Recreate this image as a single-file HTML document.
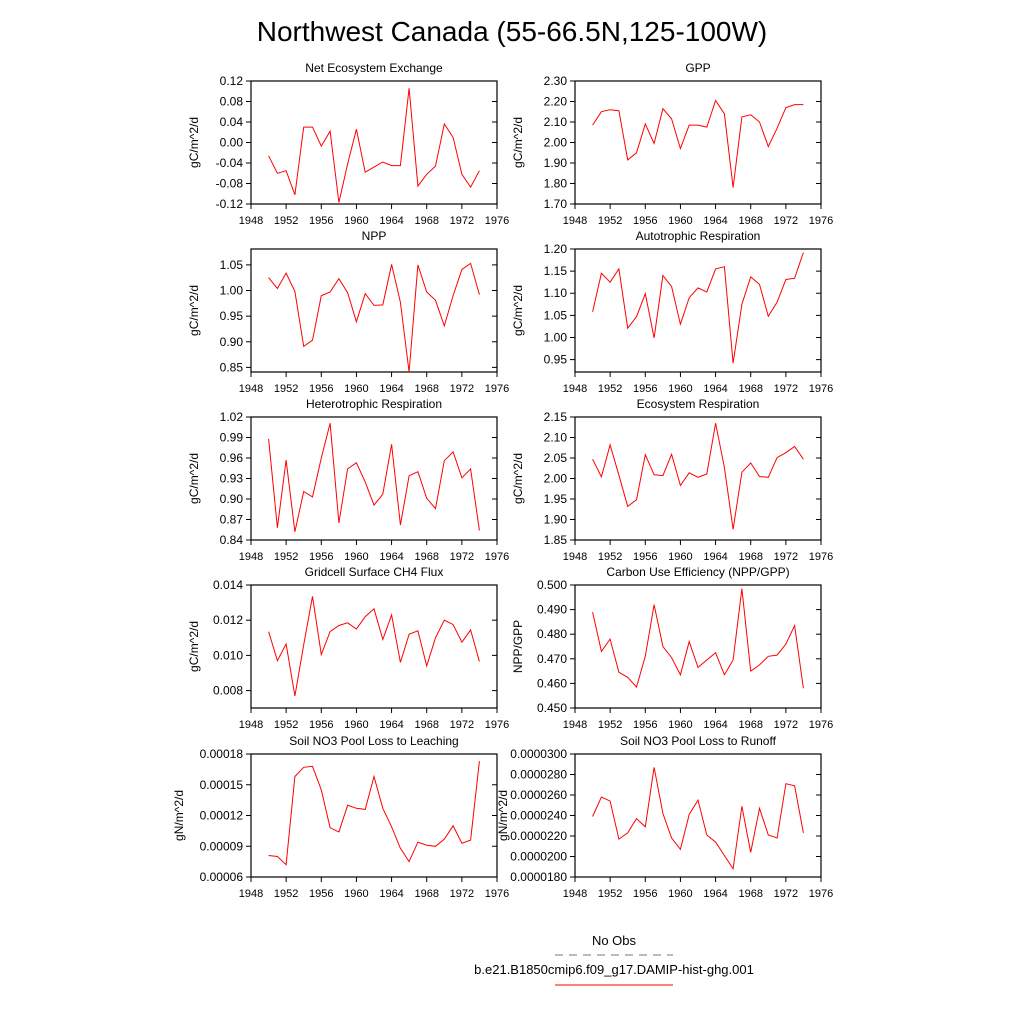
<!DOCTYPE html>
<html><head><meta charset="utf-8"><style>
body{margin:0;background:#fff;}
svg{display:block;font-family:"Liberation Sans",sans-serif;}
</style></head><body>
<svg id="c" width="1024" height="1024" viewBox="0 0 1024 1024">
<text x="512" y="41" font-size="28" text-anchor="middle">Northwest Canada (55-66.5N,125-100W)</text>
<g>
<text x="614" y="945" font-size="13" text-anchor="middle">No Obs</text>
<line x1="555" y1="955" x2="673" y2="955" stroke="#777" stroke-dasharray="8,6"/>
<text x="614" y="974" font-size="13" text-anchor="middle">b.e21.B1850cmip6.f09_g17.DAMIP-hist-ghg.001</text>
<line x1="555" y1="985" x2="673" y2="985" stroke="#f00"/>
</g>
</svg>
<script>
const years = [1950,1951,1952,1953,1954,1955,1956,1957,1958,1959,1960,1961,1962,1963,1964,1965,1966,1967,1968,1969,1970,1971,1972,1973,1974];
const xTicks = [1948,1952,1956,1960,1964,1968,1972,1976];
const neeValues = [-0.026,-0.060,-0.055,-0.102,0.030,0.030,-0.007,0.022,-0.117,-0.042,0.026,-0.058,-0.048,-0.038,-0.045,-0.045,0.106,-0.085,-0.062,-0.046,0.036,0.010,-0.062,-0.087,-0.055];
const neeTicks = ["0.12","0.08","0.04","0.00","-0.04","-0.08","-0.12"];
const gppValues = [2.085,2.15,2.16,2.155,1.915,1.95,2.09,1.995,2.165,2.115,1.97,2.085,2.085,2.075,2.205,2.14,1.78,2.125,2.135,2.1,1.98,2.07,2.17,2.185,2.185];
const gppTicks = ["2.30","2.20","2.10","2.00","1.90","1.80","1.70"];
const nppValues = [1.025,1.004,1.034,0.998,0.891,0.903,0.99,0.997,1.023,0.996,0.939,0.994,0.971,0.972,1.051,0.977,0.841,1.05,0.997,0.981,0.931,0.99,1.041,1.053,0.992];
const nppTicks = ["1.05","1.00","0.95","0.90","0.85"];
const arValues = [1.058,1.145,1.125,1.155,1.021,1.047,1.099,0.999,1.14,1.115,1.03,1.09,1.112,1.103,1.155,1.16,0.942,1.075,1.137,1.12,1.048,1.08,1.131,1.134,1.192];
const arTicks = ["1.20","1.15","1.10","1.05","1.00","0.95"];
const hrValues = [0.988,0.858,0.957,0.852,0.911,0.903,0.96,1.011,0.865,0.944,0.953,0.925,0.891,0.907,0.98,0.862,0.934,0.94,0.901,0.886,0.956,0.969,0.931,0.944,0.854];
const hrTicks = ["1.02","0.99","0.96","0.93","0.90","0.87","0.84"];
const erValues = [2.047,2.004,2.082,2.008,1.932,1.948,2.058,2.009,2.007,2.059,1.983,2.014,2.003,2.011,2.135,2.027,1.876,2.015,2.038,2.005,2.003,2.051,2.063,2.078,2.047];
const erTicks = ["2.15","2.10","2.05","2.00","1.95","1.90","1.85"];
const ch4Values = [0.01135,0.0097,0.01065,0.0077,0.0106,0.01335,0.01005,0.01135,0.0117,0.01185,0.0115,0.0122,0.01265,0.0109,0.0123,0.0096,0.0112,0.0114,0.0094,0.011,0.012,0.01175,0.01075,0.01145,0.00965];
const ch4Ticks = ["0.014","0.012","0.010","0.008"];
const cueValues = [0.489,0.473,0.478,0.4645,0.4625,0.4585,0.471,0.492,0.475,0.4705,0.4635,0.477,0.4665,0.4695,0.4725,0.4635,0.4695,0.4985,0.465,0.4675,0.471,0.4715,0.476,0.4835,0.458];
const cueTicks = ["0.500","0.490","0.480","0.470","0.460","0.450"];
const leachValues = [8.1e-5,8.0e-5,7.2e-5,15.8e-5,16.7e-5,16.8e-5,14.5e-5,10.8e-5,10.4e-5,13.0e-5,12.7e-5,12.6e-5,15.8e-5,12.7e-5,10.9e-5,8.8e-5,7.5e-5,9.4e-5,9.1e-5,9.0e-5,9.7e-5,11.0e-5,9.3e-5,9.6e-5,17.3e-5];
const leachTicks = ["0.00018","0.00015","0.00012","0.00009","0.00006"];
const runoffValues = [239e-7,258e-7,254e-7,217e-7,223e-7,237e-7,229e-7,287e-7,242e-7,218e-7,207e-7,241e-7,255e-7,221e-7,214e-7,201e-7,188e-7,249e-7,204e-7,247e-7,221e-7,218e-7,271e-7,269e-7,223e-7];
const runoffTicks = ["0.0000300","0.0000280","0.0000260","0.0000240","0.0000220","0.0000200","0.0000180"];

const panels = [
 {name:"nee",title:"Net Ecosystem Exchange",unit:"gC/m^2/d",vals:neeValues,ticks:neeTicks,min:-0.12,max:0.12,col:0,row:0},
 {name:"gpp",title:"GPP",unit:"gC/m^2/d",vals:gppValues,ticks:gppTicks,min:1.7,max:2.3,col:1,row:0},
 {name:"npp",title:"NPP",unit:"gC/m^2/d",vals:nppValues,ticks:nppTicks,min:0.841,max:1.081,col:0,row:1},
 {name:"autotrophic-respiration",title:"Autotrophic Respiration",unit:"gC/m^2/d",vals:arValues,ticks:arTicks,min:0.922,max:1.2,col:1,row:1},
 {name:"heterotrophic-respiration",title:"Heterotrophic Respiration",unit:"gC/m^2/d",vals:hrValues,ticks:hrTicks,min:0.84,max:1.02,col:0,row:2},
 {name:"ecosystem-respiration",title:"Ecosystem Respiration",unit:"gC/m^2/d",vals:erValues,ticks:erTicks,min:1.85,max:2.15,col:1,row:2},
 {name:"ch4-flux",title:"Gridcell Surface CH4 Flux",unit:"gC/m^2/d",vals:ch4Values,ticks:ch4Ticks,min:0.00701,max:0.014,col:0,row:3},
 {name:"carbon-use-efficiency",title:"Carbon Use Efficiency (NPP/GPP)",unit:"NPP/GPP",vals:cueValues,ticks:cueTicks,min:0.45,max:0.5,col:1,row:3},
 {name:"no3-leaching",title:"Soil NO3 Pool Loss to Leaching",unit:"gN/m^2/d",vals:leachValues,ticks:leachTicks,min:6e-5,max:18e-5,col:0,row:4},
 {name:"no3-runoff",title:"Soil NO3 Pool Loss to Runoff",unit:"gN/m^2/d",vals:runoffValues,ticks:runoffTicks,min:1.8e-5,max:3.0e-5,col:1,row:4}
];
const NS="http://www.w3.org/2000/svg";
const svg=document.getElementById("c");
function mk(tag,attrs,parent){const e=document.createElementNS(NS,tag);for(const k in attrs)e.setAttribute(k,attrs[k]);parent.appendChild(e);return e;}
const colX=[251,575], rowY=[81,249,417,585,754], W=246, H=123;
panels.forEach(p=>{
 const x0=colX[p.col], y0=rowY[p.row];
 const g=mk("g",{},svg);
 
 
 const xs=v=>x0+(v-1948)/(1976-1948)*W;
 const ys=v=>y0+H-(v-p.min)/(p.max-p.min)*H;
 const box=mk("rect",{x:x0,y:y0,width:W,height:H,fill:"none",stroke:"#000","stroke-width":1.2},g);
 
 
 const t=mk("text",{x:x0+W/2,y:y0-9,"font-size":12,"text-anchor":"middle"},g);
 t.textContent=p.title;
 
 
 const yt=mk("text",{x:0,y:0,"font-size":12,"text-anchor":"middle",transform:`translate(${x0-(p.ticks[0].length>6?68:53)},${y0+H/2}) rotate(-90)`},g);
 yt.textContent=p.unit;
 
 
 xTicks.forEach(v=>{
  const X=xs(v);
  const l=mk("line",{x1:X,y1:y0+H,x2:X,y2:y0+H+5,stroke:"#000"},g);
  
  
  const tx=mk("text",{x:X,y:y0+H+20,"font-size":11,"text-anchor":"middle"},g);
  tx.textContent=v;
  
  
 });
 p.ticks.forEach(s=>{
  const v=parseFloat(s); const Y=ys(v);
  const l=mk("line",{x1:x0-5,y1:Y,x2:x0,y2:Y,stroke:"#000"},g);
  
  
  const r=mk("line",{x1:x0+W-5,y1:Y,x2:x0+W,y2:Y,stroke:"#000"},g);
  
  
  const tx=mk("text",{x:x0-8,y:Y+4,"font-size":12,"text-anchor":"end"},g);
  tx.textContent=s;
  
  
 });
 const pts=p.vals.map((v,i)=>xs(years[i]).toFixed(1)+","+ys(v).toFixed(1)).join(" ");
 const line=mk("polyline",{points:pts,fill:"none",stroke:"#f00","stroke-width":1},g);
 
 
});
</script>
</body></html>
